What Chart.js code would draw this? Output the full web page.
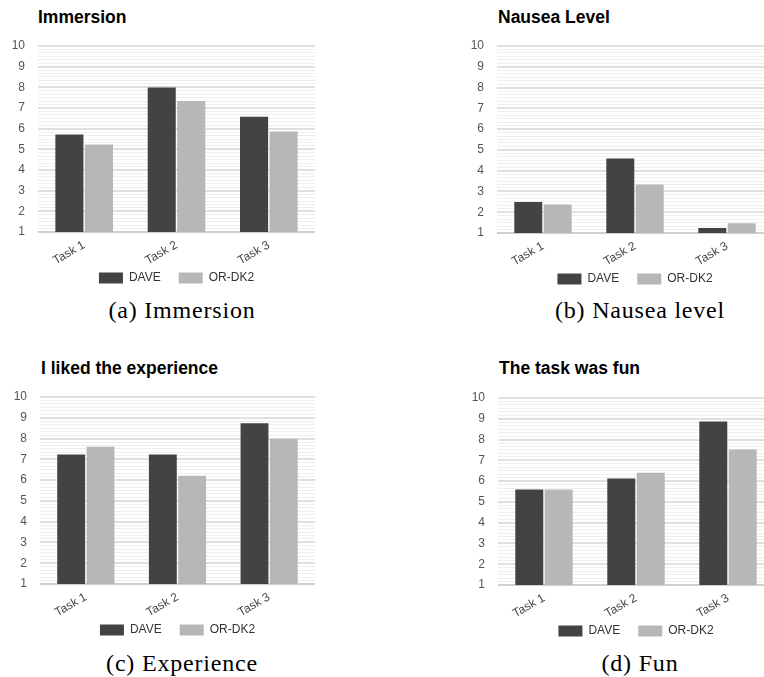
<!DOCTYPE html>
<html><head><meta charset="utf-8">
<script src="https://cdn.jsdelivr.net/npm/chart.js@4.4.0/dist/chart.umd.min.js"></script>
<style>
html,body{margin:0;padding:0;background:#fff;}
body{width:764px;height:677px;overflow:hidden;position:relative;}
.title{position:absolute;font-family:"Liberation Sans",Arial,sans-serif;font-weight:bold;font-size:17.5px;line-height:20px;color:#000;white-space:nowrap;}
.cap{position:absolute;font-family:"Liberation Serif","Times New Roman",serif;font-size:24px;line-height:30px;color:#000;text-align:center;width:300px;letter-spacing:0.8px;white-space:nowrap;}
canvas{position:absolute;}
</style></head><body>
<div class="title" style="left:38px;top:7px">Immersion</div>
<div class="title" style="left:498px;top:7px">Nausea Level</div>
<div class="title" style="left:41px;top:358px">I liked the experience</div>
<div class="title" style="left:499px;top:358px">The task was fun</div>
<div class="cap" style="left:32px;top:295px">(a) Immersion</div>
<div class="cap" style="left:490px;top:295px">(b) Nausea level</div>
<div class="cap" style="left:32px;top:648px">(c) Experience</div>
<div class="cap" style="left:490px;top:648px">(d) Fun</div>
<canvas id="ca" width="315" height="268" style="left:0px;top:36px"></canvas>
<canvas id="cb" width="314" height="269" style="left:459px;top:36px"></canvas>
<canvas id="cc" width="313" height="269" style="left:2px;top:387px"></canvas>
<canvas id="cd" width="314" height="269" style="left:460px;top:388px"></canvas>
<script>
const categories = ['Task 1', 'Task 2', 'Task 3'];
const seriesNames = ['DAVE', 'OR-DK2'];
const yTickLabels = [1, 2, 3, 4, 5, 6, 7, 8, 9, 10];
const immersionDave = [5.72, 7.99, 6.58];
const immersionOr = [5.23, 7.34, 5.86];
const nauseaDave = [2.49, 4.58, 1.24];
const nauseaOr = [2.37, 3.34, 1.47];
const experienceDave = [7.23, 7.23, 8.74];
const experienceOr = [7.61, 6.21, 7.99];
const funDave = [5.60, 6.13, 8.87];
const funOr = [5.60, 6.40, 7.52];

Chart.defaults.font.family = "'Liberation Sans', Arial, sans-serif";
const colors = ['#434343', '#b7b7b7'];
const minorPerMajor = 6;
const yMin = yTickLabels[0], yMax = yTickLabels[yTickLabels.length - 1];
function isMajor(v) { return Math.abs(v - Math.round(v)) < 1e-6; }

// moves the legend up a little so it sits closer to the rotated category labels
const legendShift = {
  id: 'legendShift',
  afterLayout(chart, args, opts) {
    const lg = chart.legend;
    if (!lg) return;
    lg.top -= opts.dy;
    lg.bottom -= opts.dy;
  }
};

function makeChart(id, dave, ordk) {
  new Chart(document.getElementById(id), {
    type: 'bar',
    plugins: [legendShift],
    data: {
      labels: categories,
      datasets: [
        { label: seriesNames[0], data: dave, backgroundColor: colors[0] },
        { label: seriesNames[1], data: ordk, backgroundColor: colors[1] }
      ]
    },
    options: {
      responsive: false,
      animation: false,
      devicePixelRatio: 1,
      layout: { padding: { top: 10, left: 0, right: 0, bottom: 0 } },
      datasets: { bar: { categoryPercentage: 0.64, barPercentage: 0.95 } },
      plugins: {
        tooltip: { enabled: false },
        legendShift: { dy: 10 },
        legend: {
          position: 'bottom',
          fullSize: false,
          labels: { boxWidth: 24, boxHeight: 11, padding: 18, color: '#333', font: { size: 12 } }
        }
      },
      scales: {
        x: {
          grid: { display: false },
          border: { display: false },
          ticks: { maxRotation: 30, minRotation: 30, color: '#444', font: { size: 12 }, padding: -2 },
          afterFit: s => { s.height = 32; }
        },
        y: {
          min: yMin, max: yMax,
          border: { display: false },
          grid: {
            drawTicks: true,
            tickLength: 13,
            tickColor: 'rgba(0,0,0,0)',
            color: c => (c.tick && isMajor(c.tick.value)) ? (Math.round(c.tick.value) === yMin ? '#d0d0d0' : '#e0e0e0') : '#efefef',
            lineWidth: c => (c.tick && isMajor(c.tick.value)) ? 2 : 1
          },
          ticks: {
            autoSkip: false,
            padding: 0,
            color: '#555',
            font: { size: 12 },
            callback: v => isMajor(v) ? String(Math.round(v)) : ''
          },
          afterBuildTicks: s => {
            const t = [];
            const n = (yMax - yMin) * minorPerMajor;
            for (let i = 0; i <= n; i++) t.push({ value: yMin + i / minorPerMajor });
            s.ticks = t;
          },
          afterFit: s => { s.width = 38; }
        }
      }
    }
  });
}
makeChart('ca', immersionDave, immersionOr);
makeChart('cb', nauseaDave, nauseaOr);
makeChart('cc', experienceDave, experienceOr);
makeChart('cd', funDave, funOr);
</script>
</body></html>
